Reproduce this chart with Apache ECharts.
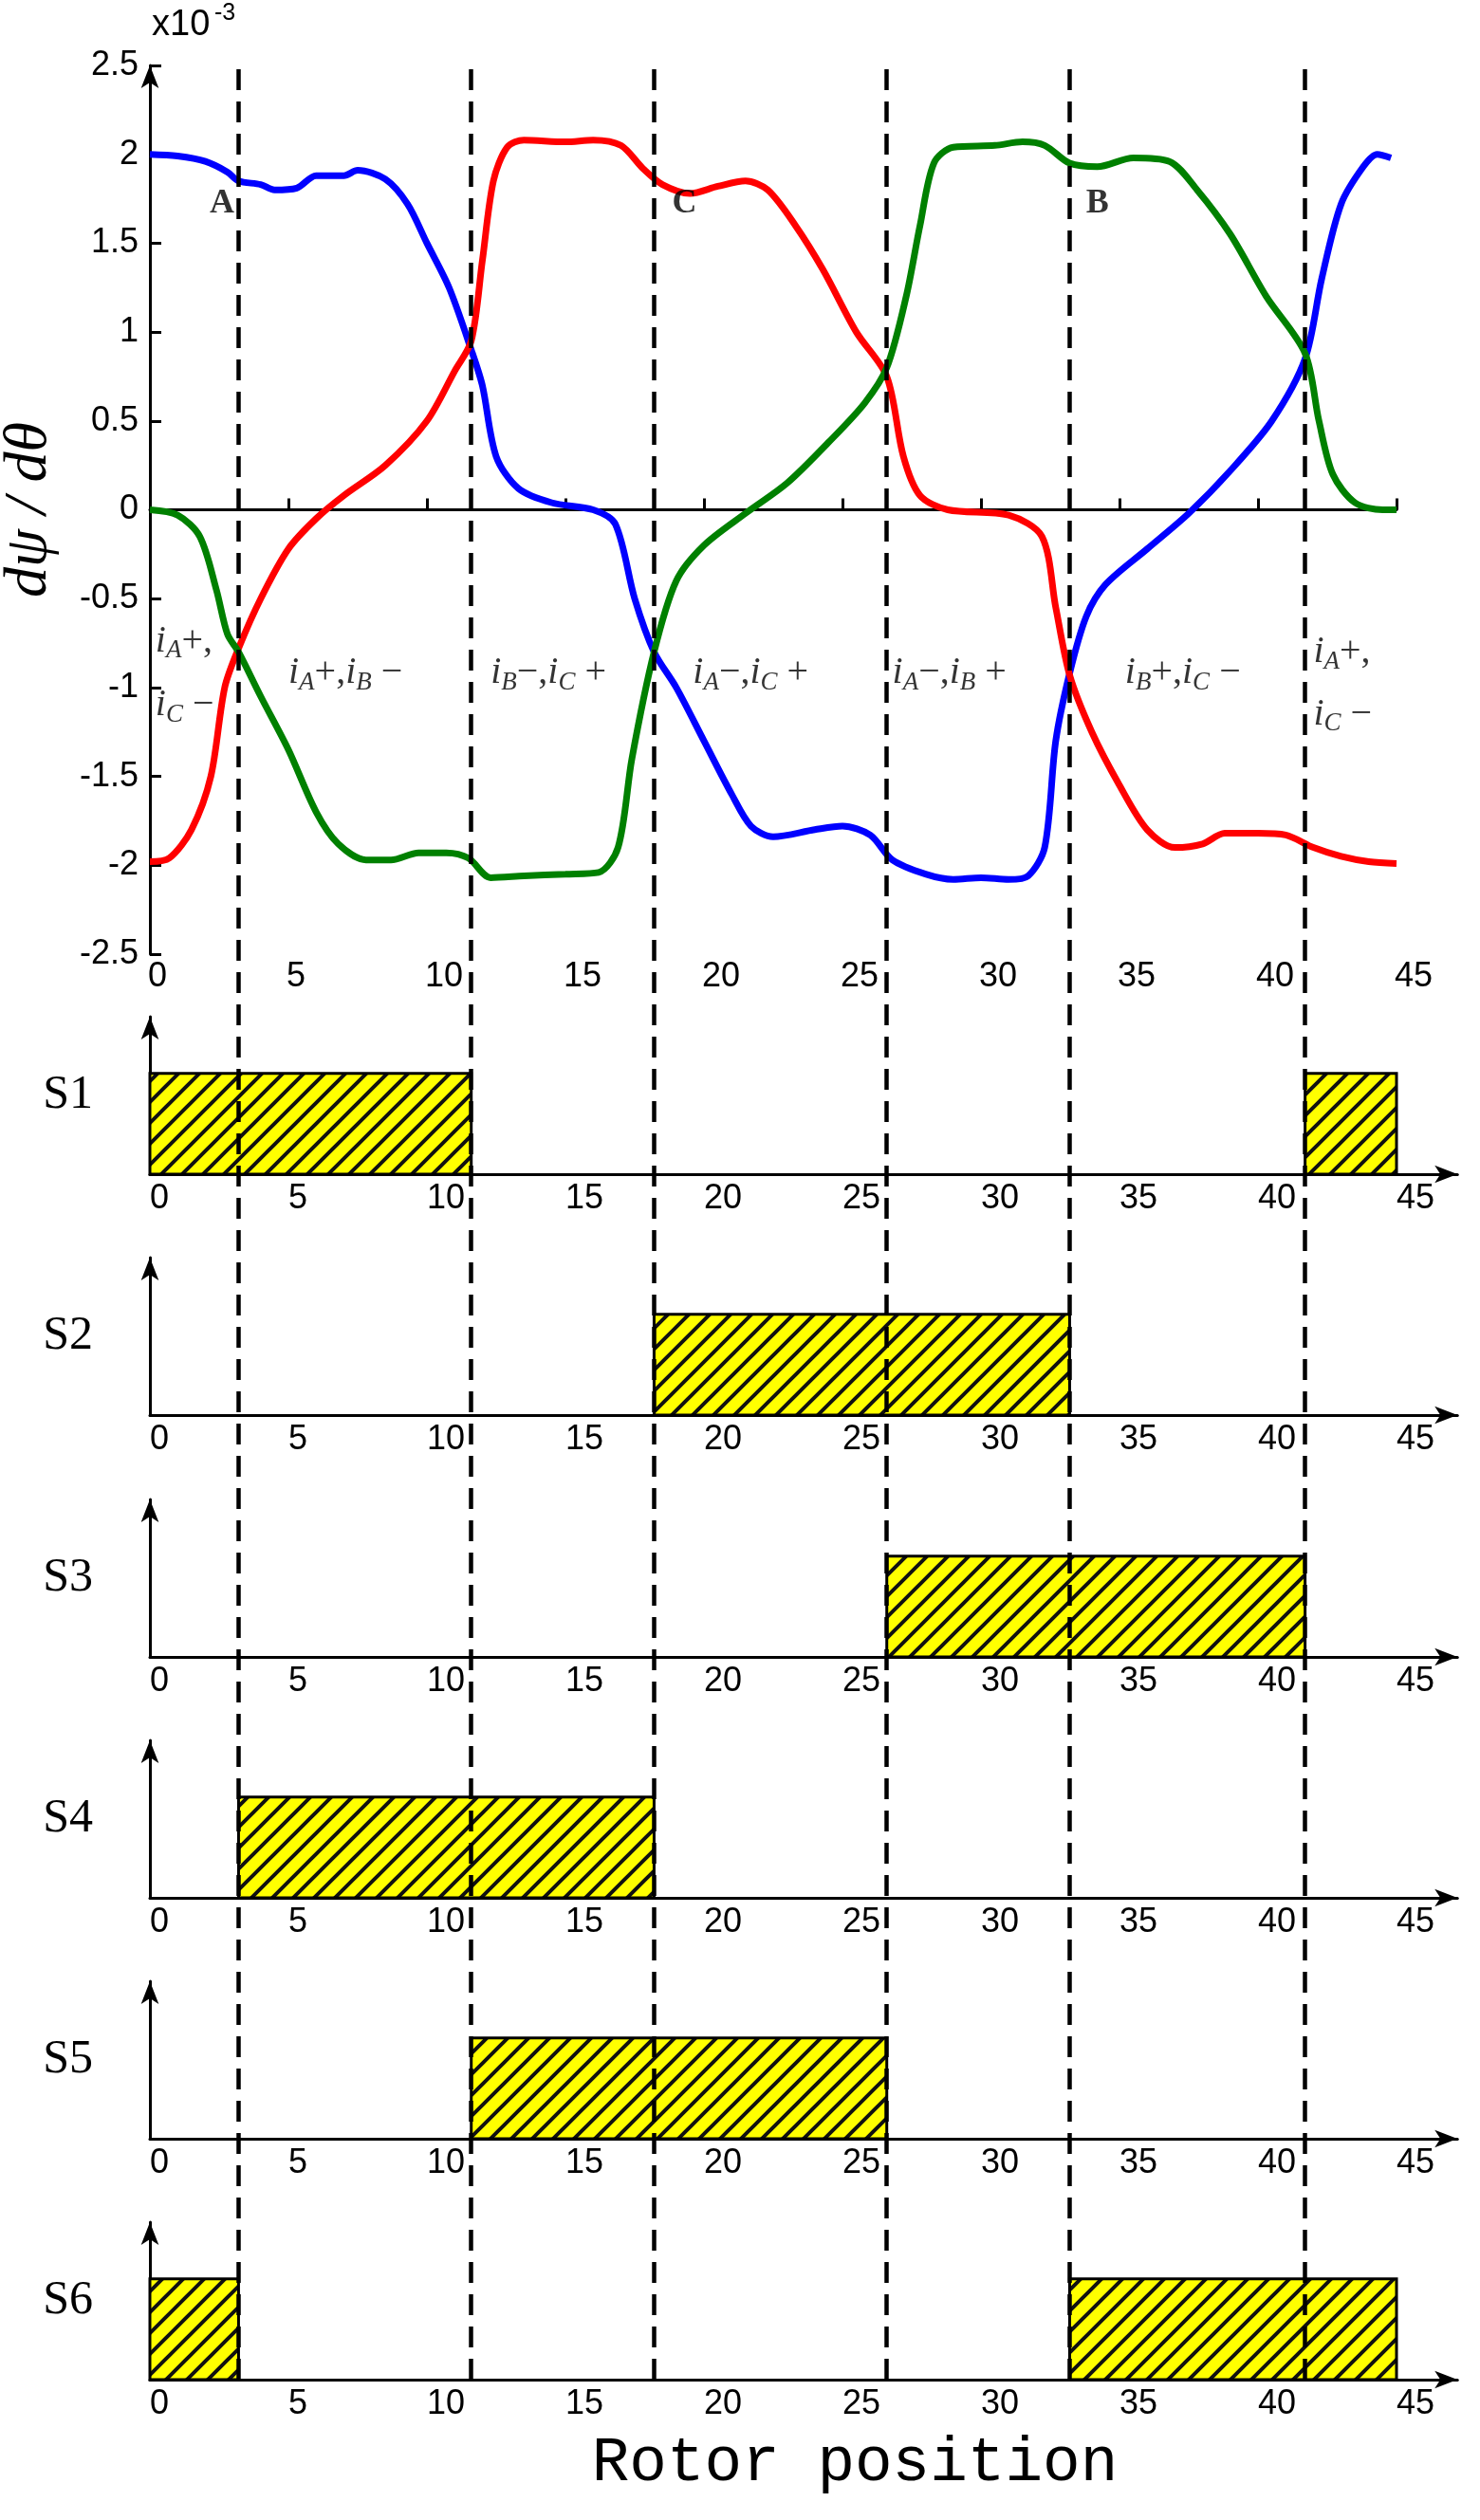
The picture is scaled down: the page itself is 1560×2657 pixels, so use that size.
<!DOCTYPE html>
<html>
<head>
<meta charset="utf-8">
<script src="https://cdn.jsdelivr.net/npm/echarts@6/dist/echarts.min.js"></script>
<style>
  html, body { margin: 0; padding: 0; background: #fff; }
  #chart { width: 1560px; height: 2657px; }
</style>
</head>
<body>
<div id="chart"></div>
<script>
// dψ/dθ curves (x10^-3) against rotor position
const blue = [[0,2.0],[1,1.99],[2,1.96],[2.8,1.9],[3.2,1.85],[4,1.83],[4.5,1.8],[5.3,1.81],[6,1.88],[7,1.88],[7.5,1.91],[8.5,1.86],[9.3,1.72],[10,1.5],[10.8,1.25],[11.6,0.9],[12,0.7],[12.5,0.3],[13.3,0.12],[14.5,0.04],[16,0.0],[16.8,-0.08],[17.5,-0.5],[18.2,-0.8],[19,-1.0],[20,-1.3],[21,-1.6],[21.7,-1.78],[22.5,-1.84],[24,-1.8],[25,-1.78],[26,-1.83],[26.8,-1.97],[28,-2.05],[29,-2.08],[30,-2.07],[31,-2.08],[31.7,-2.06],[32.3,-1.9],[32.7,-1.3],[33.2,-0.92],[33.8,-0.6],[34.5,-0.42],[36,-0.22],[37.5,-0.02],[39,0.22],[40.5,0.5],[41.7,0.85],[42.3,1.3],[43,1.72],[43.8,1.93],[44.3,2.0],[44.8,1.98]];
const red = [[0,-1.98],[0.7,-1.96],[1.5,-1.8],[2.2,-1.5],[2.7,-1.0],[3.2,-0.78],[4,-0.5],[5,-0.22],[6,-0.05],[7,0.08],[8.5,0.25],[10,0.5],[11,0.78],[11.6,0.95],[12,1.4],[12.4,1.85],[12.9,2.04],[13.5,2.08],[15,2.07],[16,2.08],[17,2.05],[17.8,1.92],[18.5,1.83],[19.5,1.78],[20.5,1.82],[21.5,1.85],[22.3,1.8],[23.3,1.6],[24.3,1.35],[25.5,1.0],[26.6,0.75],[27.2,0.3],[27.8,0.08],[28.8,0.0],[31,-0.03],[32.2,-0.15],[32.7,-0.55],[33.2,-0.93],[34,-1.25],[35,-1.55],[36,-1.8],[37,-1.9],[38,-1.88],[38.8,-1.82],[40,-1.82],[41,-1.83],[42,-1.9],[43,-1.95],[44,-1.98],[45,-1.99]];
const green = [[0,0.0],[1,-0.03],[1.8,-0.15],[2.4,-0.45],[2.8,-0.7],[3.2,-0.8],[4,-1.05],[5,-1.35],[6,-1.7],[6.8,-1.88],[7.8,-1.97],[8.7,-1.97],[9.7,-1.93],[10.7,-1.93],[11.5,-1.96],[12.3,-2.07],[13.5,-2.06],[15,-2.05],[16.2,-2.04],[16.9,-1.9],[17.4,-1.4],[18.2,-0.8],[19,-0.4],[20,-0.2],[21.5,-0.02],[23,0.15],[24.5,0.38],[25.8,0.6],[26.6,0.8],[27.3,1.2],[27.8,1.6],[28.3,1.95],[29,2.04],[30.5,2.05],[31.5,2.07],[32.3,2.05],[33.2,1.95],[34.2,1.93],[35.5,1.98],[36.8,1.96],[37.8,1.8],[39,1.55],[40.3,1.2],[41.7,0.88],[42.2,0.5],[42.7,0.2],[43.5,0.04],[44.5,0.0],[45,0.0]];

// commutation boundaries and switch conduction intervals
const boundaries = [3.2, 11.6, 18.2, 26.6, 33.2, 41.7];
const switchNames = ['S1', 'S2', 'S3', 'S4', 'S5', 'S6'];
const switchOn = [
  [[0, 11.6], [41.7, 45]],
  [[18.2, 33.2]],
  [[26.6, 41.7]],
  [[3.2, 18.2]],
  [[11.6, 26.6]],
  [[0, 3.2], [33.2, 45]]
];
const barLevel = 0.64;
const xTicks = [0, 5, 10, 15, 20, 25, 30, 35, 40, 45];
const yTicks = [-2.5, -2, -1.5, -1, -0.5, 0, 0.5, 1, 1.5, 2, 2.5];

const pointLabels = [[2.6, 1.72, 'A'], [19.3, 1.72, 'C'], [34.2, 1.72, 'B']];
const regionLabels = [
  [0.2, -0.74, '{i|i}{s|A}{n|+,}'],
  [0.2, -1.1, '{i|i}{s|C}{n| −}'],
  [5.0, -0.92, '{i|i}{s|A}{n|+,}{i|i}{s|B}{n| −}'],
  [12.3, -0.92, '{i|i}{s|B}{n|−,}{i|i}{s|C}{n| +}'],
  [19.6, -0.92, '{i|i}{s|A}{n|−,}{i|i}{s|C}{n| +}'],
  [26.8, -0.92, '{i|i}{s|A}{n|−,}{i|i}{s|B}{n| +}'],
  [35.2, -0.92, '{i|i}{s|B}{n|+,}{i|i}{s|C}{n| −}'],
  [42.0, -0.8, '{i|i}{s|A}{n|+,}'],
  [42.0, -1.15, '{i|i}{s|C}{n| −}']
];

// hatch pattern for conduction blocks
const hatch = document.createElement('canvas');
hatch.width = 22; hatch.height = 22;
(function () {
  const c = hatch.getContext('2d');
  c.fillStyle = '#ffff00';
  c.fillRect(0, 0, 22, 22);
  c.strokeStyle = '#111';
  c.lineWidth = 4;
  c.beginPath();
  c.moveTo(-11, 11); c.lineTo(11, -11);
  c.moveTo(0, 22); c.lineTo(22, 0);
  c.moveTo(11, 33); c.lineTo(33, 11);
  c.stroke();
})();

const rich = {
  i: { fontFamily: 'Liberation Serif', fontStyle: 'italic', fontSize: 40, color: '#000' },
  s: { fontFamily: 'Liberation Serif', fontStyle: 'italic', fontSize: 27, color: '#000', padding: [20, 0, 0, 0] },
  n: { fontFamily: 'Liberation Serif', fontSize: 40, color: '#000' }
};

const chart = echarts.init(document.getElementById('chart'));

const LEFT = 158, UNIT = 1314 / 45;
const TICK_FONT = { color: '#000', fontSize: 36, fontFamily: 'Liberation Sans' };
const grids = [{ left: LEFT, width: 1314, top: 69, height: 937, outerBoundsMode: 'none' }];
const xAxes = [{
  gridIndex: 0, type: 'value', min: 0, max: 45, interval: 5,
  axisLine: { onZero: true, lineStyle: { color: '#000', width: 3 } },
  axisTick: { inside: true, length: 12, lineStyle: { color: '#000', width: 3 } },
  axisLabel: Object.assign({ margin: 6, align: 'left', padding: [0, 0, 0, -2] }, TICK_FONT),
  splitLine: { show: false }
}];
const yAxes = [{
  gridIndex: 0, type: 'value', min: -2.5, max: 2.5, interval: 0.5,
  axisLine: { show: true, onZero: false, symbol: ['none', 'arrow'], symbolSize: [14, 24], lineStyle: { color: '#000', width: 3 } },
  axisTick: { show: true, inside: true, length: 12, lineStyle: { color: '#000', width: 3 } },
  axisLabel: Object.assign({ margin: 12, formatter: v => yTicks.includes(v) ? String(v) : '' }, TICK_FONT),
  splitLine: { show: false },
  name: 'dψ / dθ', nameLocation: 'middle', nameGap: 95, nameRotate: 90,
  nameTextStyle: { fontFamily: 'Liberation Serif', fontStyle: 'italic', fontSize: 64, color: '#000' }
}];

const series = [
  { type: 'line', name: 'blue', data: blue, xAxisIndex: 0, yAxisIndex: 0, smooth: 0.3, symbol: 'none', lineStyle: { color: '#0000ff', width: 7 }, z: 3 },
  { type: 'line', name: 'red', data: red, xAxisIndex: 0, yAxisIndex: 0, smooth: 0.3, symbol: 'none', lineStyle: { color: '#ff0000', width: 7 }, z: 3 },
  { type: 'line', name: 'green', data: green, xAxisIndex: 0, yAxisIndex: 0, smooth: 0.3, symbol: 'none', lineStyle: { color: '#008000', width: 7 }, z: 3 },
  { type: 'scatter', data: pointLabels, xAxisIndex: 0, yAxisIndex: 0, symbolSize: 0, z: 5,
    label: { show: true, position: 'inside', formatter: p => p.data[2], fontFamily: 'Liberation Serif', fontWeight: 'bold', fontSize: 36, color: '#000' } },
  { type: 'scatter', data: regionLabels, xAxisIndex: 0, yAxisIndex: 0, symbolSize: 0, z: 5,
    label: { show: true, position: 'right', distance: 0, formatter: p => p.data[2], rich: rich } }
];

// six switch panels
const axisY = [1238, 1492, 1747, 2001, 2255, 2509];
switchNames.forEach((nm, k) => {
  const gi = k + 1;
  grids.push({ left: LEFT, width: UNIT * 47.2, top: axisY[k] - 166, height: 166, outerBoundsMode: 'none' });
  xAxes.push({
    gridIndex: gi, type: 'value', min: 0, max: 47.2, interval: 5,
    axisLine: { symbol: ['none', 'arrow'], symbolSize: [14, 24], lineStyle: { color: '#000', width: 3 } },
    axisTick: { show: false },
    axisLabel: Object.assign({ margin: 8, align: 'left', padding: [0, 0, 0, 0], showMaxLabel: false,
      formatter: v => xTicks.includes(v) ? String(v) : '' }, TICK_FONT),
    splitLine: { show: false }
  });
  yAxes.push({
    gridIndex: gi, type: 'value', min: 0, max: 1,
    axisLine: { show: true, symbol: ['none', 'arrow'], symbolSize: [14, 24], lineStyle: { color: '#000', width: 3 } },
    axisTick: { show: false }, axisLabel: { show: false }, splitLine: { show: false },
    name: nm, nameLocation: 'middle', nameRotate: 0, nameGap: 60,
    nameTextStyle: { fontFamily: 'Liberation Serif', fontSize: 50, color: '#000', align: 'right', padding: [0, 0, 30, 0] }
  });
  series.push({
    type: 'custom', xAxisIndex: gi, yAxisIndex: gi, data: switchOn[k],
    renderItem: (params, api) => {
      const p0 = api.coord([api.value(0), barLevel]);
      const p1 = api.coord([api.value(1), 0]);
      return {
        type: 'rect',
        shape: { x: p0[0], y: p0[1], width: p1[0] - p0[0], height: p1[1] - p0[1] },
        style: { fill: { image: hatch, repeat: 'repeat' }, stroke: '#000', lineWidth: 3 }
      };
    },
    z: 2
  });
});

// full-height overlay for dashed boundary lines
const og = grids.length;
grids.push({ left: LEFT, width: 1314, top: 69, height: 2509 - 69, outerBoundsMode: 'none' });
xAxes.push({ gridIndex: og, type: 'value', min: 0, max: 45, show: false });
yAxes.push({ gridIndex: og, type: 'value', min: 0, max: 1, show: false });
series.push({
  type: 'line', xAxisIndex: og, yAxisIndex: og, data: [], symbol: 'none', z: 6,
  markLine: {
    silent: true, symbol: 'none', label: { show: false },
    lineStyle: { color: '#000', type: [22, 12], width: 4.5 },
    data: boundaries.map(b => ({ xAxis: b }))
  }
});

chart.setOption({
  animation: false,
  backgroundColor: '#fff',
  grid: grids,
  xAxis: xAxes,
  yAxis: yAxes,
  series: series,
  graphic: [
    { type: 'text', x: 160, y: 8, style: { text: 'x10', font: '38px "Liberation Sans"', fill: '#000' } },
    { type: 'text', x: 226, y: 2, style: { text: '-3', font: '25px "Liberation Sans"', fill: '#000' } },
    { type: 'text', x: 901, y: 2598, style: { text: 'Rotor position', font: '66px "Liberation Mono"', fill: '#000', align: 'center', verticalAlign: 'middle' } }
  ]
});
</script>
</body>
</html>
